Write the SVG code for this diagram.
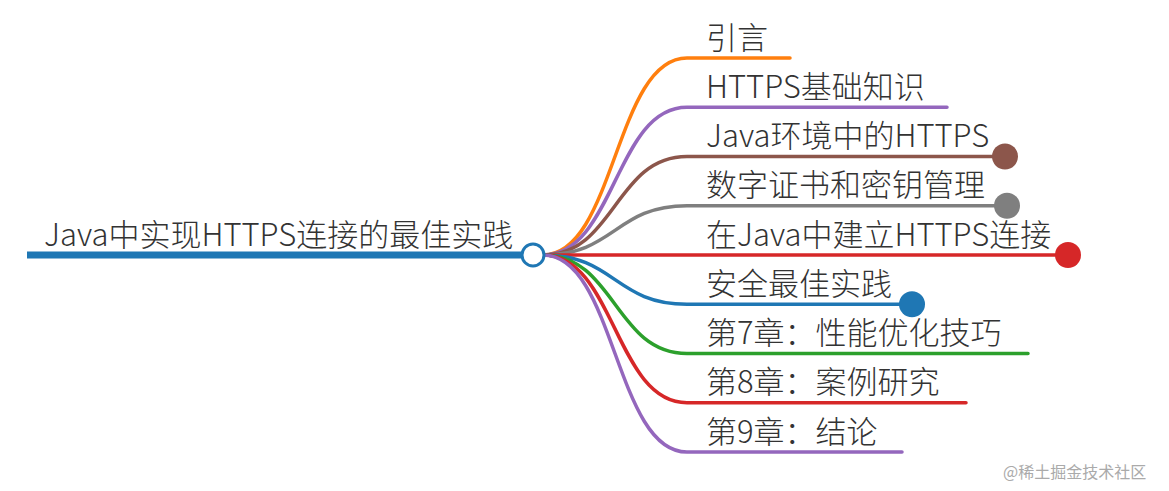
<svg xmlns="http://www.w3.org/2000/svg" width="1169" height="491" viewBox="0 0 1169 491">
<style>
text{font-family:"Noto Sans CJK SC","Noto Sans",sans-serif;font-size:31px;fill:#333;font-weight:300}
.b{fill:none;stroke-width:3.5;stroke-linecap:round}
.wm{font-size:16px;fill:#aaa;font-weight:400}
</style>
<rect width="1169" height="491" fill="#fff"/>
<g id="connectors">
<path class="b" stroke="#ff7f0e" d="M543,255 C615,255 615,58 687,58 L790,58"/>
<path class="b" stroke="#9467bd" d="M543,255 C615,255 615,107.25 687,107.25 L947,107.25"/>
<path class="b" stroke="#8c564b" d="M543,255 C615,255 615,156.5 687,156.5 L1005,156.5"/>
<path class="b" stroke="#7f7f7f" d="M543,255 C615,255 615,205.75 687,205.75 L1007,205.75"/>
<path class="b" stroke="#d62728" d="M543,255 L1068,255"/>
<path class="b" stroke="#1f77b4" d="M543,255 C615,255 615,304.25 687,304.25 L912,304.25"/>
<path class="b" stroke="#2ca02c" d="M543,255 C615,255 615,353.5 687,353.5 L1028,353.5"/>
<path class="b" stroke="#d62728" d="M543,255 C615,255 615,402.75 687,402.75 L966,402.75"/>
<path class="b" stroke="#9467bd" d="M543,255 C615,255 615,452 687,452 L902,452"/>
</g>
<g id="root">
<line x1="27" y1="255" x2="522" y2="255" stroke="#1f77b4" stroke-width="7"/>
<circle cx="533" cy="255" r="11" fill="#fff" stroke="#1f77b4" stroke-width="3"/>
<text x="44" y="246">Java中实现HTTPS连接的最佳实践</text>
</g>
<g id="n1"><text x="706" y="49">引言</text></g>
<g id="n2"><text x="706" y="98">HTTPS基础知识</text></g>
<g id="n3"><text x="706" y="147">Java环境中的HTTPS</text><circle cx="1005" cy="156.5" r="13" fill="#8c564b"/></g>
<g id="n4"><text x="706" y="196">数字证书和密钥管理</text><circle cx="1007" cy="205.75" r="13" fill="#7f7f7f"/></g>
<g id="n5"><text x="706" y="246">在Java中建立HTTPS连接</text><circle cx="1068" cy="255" r="13" fill="#d62728"/></g>
<g id="n6"><text x="706" y="295">安全最佳实践</text><circle cx="912" cy="304.25" r="13" fill="#1f77b4"/></g>
<g id="n7"><text x="706" y="344">第7章：性能优化技巧</text></g>
<g id="n8"><text x="706" y="393">第8章：案例研究</text></g>
<g id="n9"><text x="706" y="443">第9章：结论</text></g>
<text class="wm" x="1003" y="478">@稀土掘金技术社区</text>
</svg>
